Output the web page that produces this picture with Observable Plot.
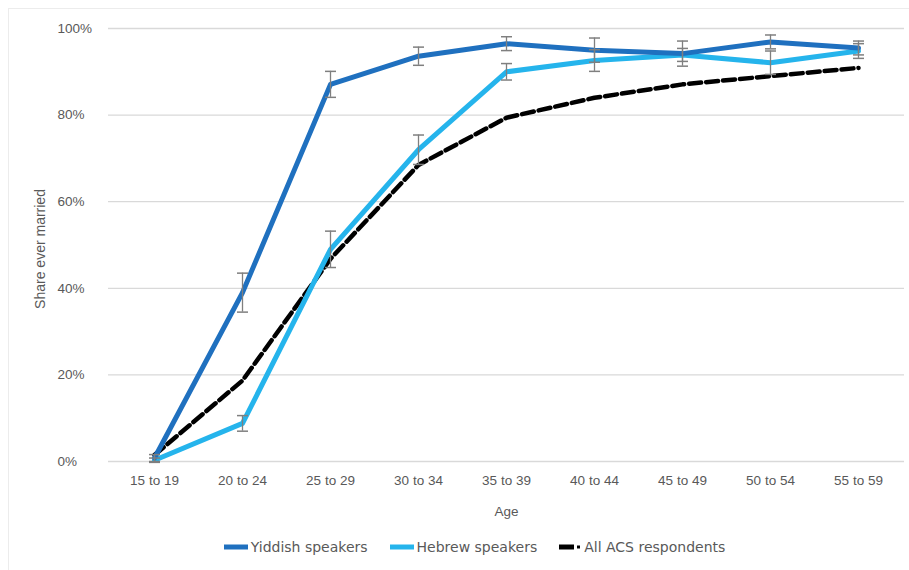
<!DOCTYPE html>
<html>
<head>
<meta charset="utf-8">
<script src="https://cdn.jsdelivr.net/npm/d3@7"></script>
<script src="https://cdn.jsdelivr.net/npm/@observablehq/plot@0.6"></script>
<style>
  body { margin: 0; background: #fff; font-family: "Liberation Sans", Arial, sans-serif; }
  #wrap { position: relative; width: 909px; height: 570px; overflow: hidden; }
  #frame { position: absolute; left: 8px; top: 8px; width: 910px; height: 580px; border: 1px solid #ececec; box-sizing: border-box; }
  #chart { position: absolute; left: 0; top: 0; }
  #legend { position: absolute; left: 0; top: 539px; width: 909px; box-sizing: border-box; display: flex; justify-content: center; font-family: "DejaVu Sans", sans-serif; font-size: 14px; color: #595959; padding-left: 40px; }
  .item { display: flex; align-items: center; margin: 0 11px; }
  .item svg { margin-right: 3px; }
</style>
</head>
<body>
<div id="wrap">
  <div id="frame"></div>
  <div id="chart"></div>
  <div id="legend"></div>
</div>
<script>
const ages = ["15 to 19","20 to 24","25 to 29","30 to 34","35 to 39","40 to 44","45 to 49","50 to 54","55 to 59"];
const yiddish    = [0.8, 39.0, 87.1, 93.6, 96.5, 95.0, 94.2, 96.9, 95.5];
const yiddishErr = [0.8, 4.5, 3.0, 2.1, 1.6, 2.8, 2.9, 1.6, 1.6];
const hebrew     = [0.3, 8.8, 49.0, 72.0, 90.0, 92.6, 93.9, 92.1, 94.8];
const hebrewErr  = [0.5, 1.8, 4.2, 3.4, 1.9, 2.5, 1.5, 2.7, 1.7];
const acs        = [1.5, 18.7, 46.8, 68.5, 79.4, 84.0, 87.1, 89.0, 90.9];
const yTicks = [0, 20, 40, 60, 80, 100];

const seriesNames = ["Yiddish speakers", "Hebrew speakers", "All ACS respondents"];
const colors = {"Yiddish speakers": "#1f70bf", "Hebrew speakers": "#25b4ec", "All ACS respondents": "#000000"};

const rows = (vals, errs, name) => ages.map((a, i) => ({age: a, value: vals[i], err: errs ? errs[i] : null, series: name}));
const yRows = rows(yiddish, yiddishErr, seriesNames[0]);
const hRows = rows(hebrew, hebrewErr, seriesNames[1]);
const aRows = rows(acs, null, seriesNames[2]);
const errRows = [...yRows, ...hRows];

const cap = {draw(ctx) { ctx.moveTo(-5.5, 0); ctx.lineTo(5.5, 0); }};

const textColor = "#595959";
const chart = Plot.plot({
  width: 909,
  height: 525,
  marginLeft: 108,
  marginRight: 5,
  marginTop: 28,
  marginBottom: 64,
  style: {fontFamily: "Liberation Sans, Arial, sans-serif", fontSize: "13.5px", color: textColor, background: "transparent"},
  x: {type: "point", domain: ages, padding: 0.5, label: null},
  y: {domain: [0, 100], label: null},
  marks: [
    Plot.gridY(yTicks, {stroke: "#d9d9d9", strokeOpacity: 1, strokeWidth: 1.3}),
    Plot.axisY(yTicks, {tickSize: 0, tickPadding: 0, textAnchor: "start", dx: -51, tickFormat: d => d + "%", fill: textColor, fontSize: 13.5, label: null}),
    Plot.axisX({tickSize: 0, tickPadding: 14, fill: textColor, fontSize: 13.5, label: null}),
    Plot.text(["Age"], {frameAnchor: "bottom", lineAnchor: "middle", dy: 50, fill: textColor, fontSize: 13.5}),
    Plot.text(["Share ever married"], {frameAnchor: "left", textAnchor: "middle", lineAnchor: "middle", dx: -68, dy: 4, rotate: -90, fill: textColor, fontSize: 14}),
    Plot.line(aRows, {x: "age", y: "value", stroke: "#000", strokeWidth: 4.5, strokeDasharray: "12,5"}),
    Plot.line(hRows, {x: "age", y: "value", stroke: colors[seriesNames[1]], strokeWidth: 5}),
    Plot.line(yRows, {x: "age", y: "value", stroke: colors[seriesNames[0]], strokeWidth: 5}),
    Plot.ruleX(errRows, {x: "age", y1: d => d.value - d.err, y2: d => d.value + d.err, stroke: "#7f7f7f", strokeWidth: 1.3}),
    Plot.dot(errRows, {x: "age", y: d => d.value - d.err, symbol: cap, stroke: "#7f7f7f", strokeWidth: 1.5, r: 4}),
    Plot.dot(errRows, {x: "age", y: d => d.value + d.err, symbol: cap, stroke: "#7f7f7f", strokeWidth: 1.5, r: 4})
  ]
});
document.getElementById("chart").appendChild(chart);

const legend = document.getElementById("legend");
seriesNames.forEach(name => {
  const item = document.createElement("div");
  item.className = "item";
  const dashed = name === "All ACS respondents";
  const swatch = dashed
    ? `<svg width="22" height="8"><line x1="0" y1="4" x2="15" y2="4" stroke="#000" stroke-width="5"/><line x1="18" y1="4" x2="21" y2="4" stroke="#000" stroke-width="3"/></svg>`
    : `<svg width="24" height="8"><line x1="0" y1="4" x2="24" y2="4" stroke="${colors[name]}" stroke-width="5"/></svg>`;
  item.innerHTML = swatch + `<span>${name}</span>`;
  legend.appendChild(item);
});
</script>
</body>
</html>
